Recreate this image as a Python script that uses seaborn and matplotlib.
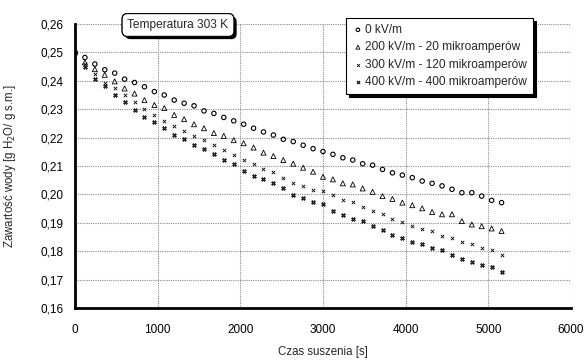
import numpy as np
import pandas as pd
import seaborn as sns
import matplotlib.pyplot as plt
import matplotlib.patheffects as pe

# Dane (czas co 120 s)
czas = [0, 120, 240, 360, 480, 600, 720, 840, 960, 1080, 1200,
        1320, 1440, 1560, 1680, 1800, 1920, 2040, 2160, 2280, 2400,
        2520, 2640, 2760, 2880, 3000, 3120, 3240, 3360, 3480, 3600,
        3720, 3840, 3960, 4080, 4200, 4320, 4440, 4560, 4680, 4800,
        4920, 5040, 5160]

kv0 = [0.2500, 0.2482, 0.2459, 0.2439, 0.2427, 0.2406, 0.2394, 0.2379, 0.2362, 0.2350, 0.2332,
       0.2321, 0.2312, 0.2294, 0.2285, 0.2271, 0.2259, 0.2247, 0.2233, 0.2220, 0.2209,
       0.2194, 0.2186, 0.2173, 0.2161, 0.2151, 0.2141, 0.2129, 0.2121, 0.2108, 0.2103,
       0.2088, 0.2076, 0.2068, 0.2059, 0.2047, 0.2039, 0.2030, 0.2018, 0.2006, 0.2006,
       0.1994, 0.1979, 0.1971]

kv200 = [0.2500, 0.2465, 0.2441, 0.2421, 0.2398, 0.2373, 0.2355, 0.2332, 0.2315, 0.2304, 0.2280,
         0.2265, 0.2247, 0.2233, 0.2216, 0.2206, 0.2191, 0.2180, 0.2165, 0.2147, 0.2135,
         0.2121, 0.2108, 0.2094, 0.2080, 0.2062, 0.2053, 0.2039, 0.2035, 0.2021, 0.2009,
         0.1994, 0.1984, 0.1971, 0.1962, 0.1951, 0.1938, 0.1930, 0.1930, 0.1906, 0.1894,
         0.1888, 0.1880, 0.1871]

kv300 = [0.2500, 0.2459, 0.2424, 0.2392, 0.2374, 0.2351, 0.2324, 0.2300, 0.2280, 0.2259, 0.2241,
         0.2224, 0.2206, 0.2191, 0.2173, 0.2157, 0.2138, 0.2121, 0.2106, 0.2088, 0.2079,
         0.2058, 0.2041, 0.2029, 0.2015, 0.2012, 0.1998, 0.1979, 0.1973, 0.1956, 0.1941,
         0.1930, 0.1915, 0.1903, 0.1888, 0.1877, 0.1871, 0.1853, 0.1845, 0.1832, 0.1827,
         0.1812, 0.1804, 0.1788]

kv400 = [0.2500, 0.2450, 0.2406, 0.2380, 0.2351, 0.2324, 0.2298, 0.2273, 0.2255, 0.2234, 0.2208,
         0.2196, 0.2174, 0.2159, 0.2141, 0.2121, 0.2106, 0.2082, 0.2065, 0.2053, 0.2039,
         0.2021, 0.1997, 0.1988, 0.1973, 0.1965, 0.1941, 0.1927, 0.1914, 0.1906, 0.1888,
         0.1873, 0.1857, 0.1845, 0.1832, 0.1827, 0.1812, 0.1804, 0.1785, 0.1771, 0.1762,
         0.1753, 0.1745, 0.1727]

etykiety = ["0 kV/m",
            "200 kV/m - 20 mikroamperów",
            "300 kV/m - 120 mikroamperów",
            "400 kV/m - 400 mikroamperów"]

xticks = [0, 1000, 2000, 3000, 4000, 5000, 6000]
yticks = [0.16, 0.17, 0.18, 0.19, 0.20, 0.21, 0.22, 0.23, 0.24, 0.25, 0.26]
yticklabels = ["0,16", "0,17", "0,18", "0,19", "0,20", "0,21",
               "0,22", "0,23", "0,24", "0,25", "0,26"]

sns.set_style("white")
plt.rcParams['font.family'] = ['Liberation Sans', 'DejaVu Sans']

fig = plt.figure(figsize=(5.85, 3.6), dpi=100)
ax = fig.add_axes([75 / 585, 1 - 308 / 360, 496 / 585, 284 / 360])

# Serie danych
sns.scatterplot(x=czas, y=kv0, ax=ax, marker='o', s=10, facecolor='none',
                edgecolor='black', linewidth=0.8, label=etykiety[0])
sns.scatterplot(x=czas, y=kv200, ax=ax, marker='^', s=13, facecolor='none',
                edgecolor='black', linewidth=0.6, label=etykiety[1])
sns.scatterplot(x=czas, y=kv300, ax=ax, marker='x', s=6, color='black',
                linewidth=0.6, label=etykiety[2])
sns.scatterplot(x=czas, y=kv400, ax=ax, marker='X', s=9, color='0.15',
                edgecolor='black', linewidth=0.3, label=etykiety[3])

ax.set_xlim(0, 6000)
ax.set_ylim(0.16, 0.26)
ax.set_xticks(xticks)
ax.set_yticks(yticks)
ax.set_yticklabels(yticklabels)
ax.tick_params(labelsize=8.5, length=3, width=1, direction='inout', colors='black')
ax.tick_params(axis='x', pad=10)
ax.tick_params(axis='y', pad=7)

ax.grid(True, color='0.55', linestyle=(0, (1, 1)), linewidth=0.8)
for s in ['top', 'right']:
    ax.spines[s].set_visible(False)
for s in ['left', 'bottom']:
    ax.spines[s].set_linewidth(2)
    ax.spines[s].set_color('black')

ax.set_xlabel("Czas suszenia [s]", fontsize=8.3)
ax.xaxis.set_label_coords(0.5, -0.135)
ax.set_ylabel("Zawartość wody [g H$_2$O/ g s.m.]", fontsize=8.3)
ax.yaxis.set_label_coords(-0.115, 0.5)

# Legenda z cieniem
leg = ax.legend(loc='upper left', bbox_to_anchor=(340 / 585, 1 - 12 / 360),
                bbox_transform=fig.transFigure, fontsize=8.6, frameon=True,
                fancybox=False, handletextpad=0.1, borderpad=0.5,
                labelspacing=0.45, handlelength=1.0, markerscale=0.8,
                shadow={'color': 'black', 'alpha': 1})
leg.get_frame().set_edgecolor('black')
leg.get_frame().set_linewidth(0.8)

# Etykieta temperatury
t = fig.text(178 / 585, 1 - 25 / 360, "Temperatura 303 K", fontsize=8.6,
             ha='center', va='center',
             bbox=dict(boxstyle='round,pad=0.45', fc='white', ec='black', lw=0.8))
t.get_bbox_patch().set_path_effects([
    pe.withSimplePatchShadow(offset=(2, -2), shadow_rgbFace='black', alpha=1),
    pe.Normal()])

fig.savefig("out.png", dpi=100)
